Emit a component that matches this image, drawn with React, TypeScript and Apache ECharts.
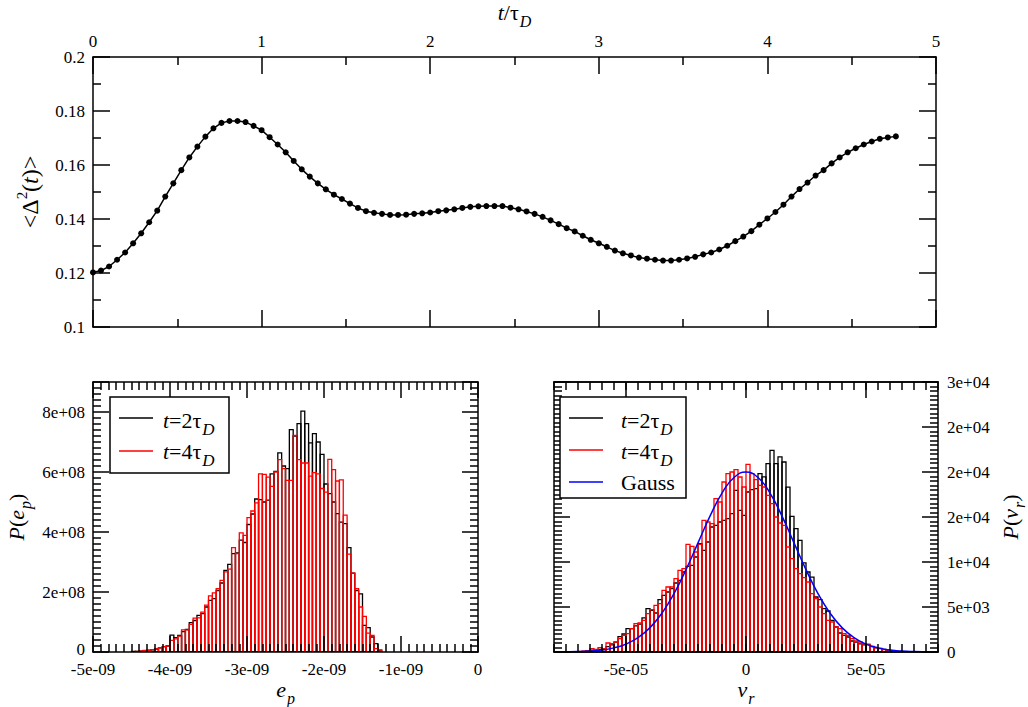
import React, { useEffect, useRef } from "react";
import * as echarts from "echarts";

const SERIF = "Liberation Serif";

// ---------- top panel: <Δ²(t)> versus t/τD ----------
const timeStep = 1 / 21; // spacing of samples in t/τD
const meanSquareDisp = [
  0.1202, 0.1209, 0.1224, 0.1249, 0.1276, 0.131, 0.1347, 0.1388, 0.1431, 0.1483,
  0.1532, 0.1581, 0.1628, 0.1668, 0.1705, 0.1736, 0.1756, 0.1763, 0.1763, 0.1759,
  0.1745, 0.1729, 0.1703, 0.1676, 0.1647, 0.1615, 0.1584, 0.1557, 0.1532, 0.151,
  0.149, 0.1474, 0.1457, 0.1441, 0.1429, 0.1423, 0.1419, 0.1415, 0.1415, 0.1416,
  0.1419, 0.1421, 0.1424, 0.1429, 0.1432, 0.1436, 0.1441, 0.1445, 0.1447, 0.1448,
  0.1448, 0.1448, 0.1442, 0.1436, 0.1428, 0.1419, 0.1408, 0.1395, 0.1381, 0.1366,
  0.1354, 0.1338, 0.1323, 0.131, 0.1297, 0.1283, 0.1273, 0.1265, 0.1257, 0.1253,
  0.1249, 0.1246, 0.1246, 0.1249, 0.1254, 0.126, 0.1269, 0.1276, 0.1287, 0.1301,
  0.1318, 0.1335, 0.1355, 0.1379, 0.1402, 0.1426, 0.1453, 0.1483, 0.1511, 0.1535,
  0.1561, 0.1581, 0.1606, 0.1628, 0.1647, 0.1662, 0.1676, 0.1687, 0.1697, 0.1702,
  0.1706,
];
const topXTickLabels = ["0", "1", "2", "3", "4", "5"];
const topYTickLabels = ["0.1", "0.12", "0.14", "0.16", "0.18", "0.2"];

// ---------- bottom-left: P(e_p), e_p in units of 1e-9, P in units of 1e+08 ----------
const epBinStart = -5;
const epBinWidth = 0.05;
const epFirstBin = 10;
const epT2 = [
  0.02, 0.02, 0.03, 0.04, 0.06, 0.07, 0.1, 0.14, 0.18, 0.2,
  0.56, 0.48, 0.55, 0.68, 0.75, 0.98, 1.05, 1.22, 1.28, 1.5,
  1.72, 1.78, 2.05, 2.3, 2.72, 2.92, 3.28, 3.3, 3.73, 3.65,
  4.25, 4.6, 5.1, 5.08, 5.0, 5.06, 5.94, 6.02, 6.64, 6.2,
  6.11, 7.41, 7.2, 7.61, 8.03, 7.61, 6.97, 7.28, 7.0, 6.59,
  5.6, 5.28, 5.0, 4.61, 4.33, 4.28, 3.48, 2.63, 2.05, 1.94,
  0.89, 0.81, 0.5, 0.28, 0.06, 0,
];
const epT4 = [
  0, 0.02, 0.03, 0.05, 0.05, 0.08, 0.1, 0.14, 0.18, 0.2,
  0.39, 0.44, 0.53, 0.74, 0.74, 0.92, 1.13, 1.14, 1.33, 1.56,
  1.87, 1.97, 2.11, 2.39, 2.67, 2.76, 3.48, 3.28, 3.97, 3.89,
  4.48, 4.7, 4.97, 5.94, 5.92, 5.83, 5.52, 6.0, 6.41, 6.11,
  5.72, 5.72, 7.22, 6.41, 6.3, 6.3, 5.86, 5.98, 5.94, 5.45,
  5.33, 6.42, 6.08, 5.7, 5.74, 4.56, 3.26, 2.63, 2.11, 1.5,
  1.19, 0.63, 0.55, 0.11, 0.06, 0,
];
const epXTickLabels = ["-5e-09", "-4e-09", "-3e-09", "-2e-09", "-1e-09", "0"];
const epYTickLabels = ["0", "2e+08", "4e+08", "6e+08", "8e+08"];

// ---------- bottom-right: P(v_r), v_r in units of 1e-5 ----------
const vrBinStart = -8;
const vrBinWidth = 1 / 6;
const vrFirstBin = 5;
const vrT2 = [
  0, 0, 50, 100, 200, 250, 300, 300, 600, 800,
  1100, 1700, 2000, 2600, 2593, 2900, 3100, 3800, 4815, 4630,
  4333, 5815, 6300, 6667, 7037, 7667, 7963, 8890, 9519, 9630,
  10556, 12037, 11300, 12222, 13890, 14074, 14444, 14630, 14815, 15370,
  17960, 15740, 15185, 17780, 18040, 18150, 19815, 19450, 20930, 22400,
  20930, 21670, 21110, 18330, 15070, 13700, 12400, 9900, 8890, 8330,
  6110, 5815, 4815, 4555, 3520, 2778, 2110, 1850, 1667, 1222,
  1100, 900, 800, 850, 600, 450, 400, 300, 200, 120,
  60, 0, 0,
];
const vrT4 = [
  30, 60, 100, 150, 370, 300, 480, 370, 1000, 926,
  1111, 1481, 1852, 2037, 2593, 3148, 3222, 3519, 4259, 4704,
  5185, 5370, 6852, 7222, 7222, 8148, 9074, 9259, 11963, 11741,
  11111, 11963, 14630, 14444, 14260, 17037, 16667, 18889, 19815, 20000,
  20260, 19444, 18333, 20850, 19815, 19150, 18520, 18333, 17400, 16480,
  15000, 14333, 14074, 11667, 10370, 9260, 8704, 8260, 7780, 6480,
  5926, 5000, 4260, 3520, 3333, 2778, 2593, 2037, 1852, 1481,
  1222, 1111, 926, 852, 630, 481, 370, 259, 185, 150,
  100, 60, 30,
];
const gaussX = [
  -8, -7.5, -7, -6.5, -6, -5.5, -5, -4.5, -4, -3.5, -3, -2.5, -2, -1.5, -1, -0.5, 0,
  0.5, 1, 1.5, 2, 2.5, 3, 3.5, 4, 4.5, 5, 5.5, 6, 6.5, 7, 7.5, 8,
];
const gaussY = [
  7, 18, 44, 102, 222, 456, 879, 1591, 2707, 4326, 6493, 9156, 12131, 15096, 17650, 19385, 20000,
  19385, 17650, 15096, 12131, 9156, 6493, 4326, 2707, 1591, 879, 456, 222, 102, 44, 18, 7,
];
const vrXTickValues = [-5, 0, 5];
const vrXTickLabels = ["-5e-05", "0", "5e-05"];
const vrYTickLabels = ["0", "5e+03", "1e+04", "2e+04", "2e+04", "2e+04", "3e+04"];

// ---------- styling helpers ----------
const nameRich: any = {
  n: { fontFamily: SERIF, fontSize: 22, color: "#000" },
  i: { fontFamily: SERIF, fontSize: 22, fontStyle: "italic", color: "#000" },
  N: { fontFamily: SERIF, fontSize: 24, color: "#000" },
  I: { fontFamily: SERIF, fontSize: 24, fontStyle: "italic", color: "#000" },
  sub: { fontFamily: SERIF, fontSize: 16, fontStyle: "italic", color: "#000", padding: [18, 0, 0, 1] },
  sup: { fontFamily: SERIF, fontSize: 15, color: "#000", padding: [0, 0, 17, 0] },
};
const tickRich: any = {
  t: { fontFamily: SERIF, fontSize: 17, color: "#000", lineHeight: 16 },
  up: { fontFamily: SERIF, fontSize: 17, color: "#000", lineHeight: 16, padding: [0, 0, 5, 0] },
};
const legendRich: any = {
  n: { fontFamily: SERIF, fontSize: 22, fill: "#000" },
  i: { fontFamily: SERIF, fontSize: 22, fontStyle: "italic", fill: "#000" },
  sub: { fontFamily: SERIF, fontSize: 17, fontStyle: "italic", fill: "#000", padding: [18, 0, 0, 1] },
};

function makeAxis(o: any) {
  const ax: any = {
    type: "value",
    gridIndex: o.grid,
    position: o.position,
    min: o.min,
    max: o.max,
    interval: o.interval,
    z: 10,
    silent: true,
    axisLine: { show: true, onZero: false, lineStyle: { color: "#000", width: 1.5 } },
    axisTick: {
      show: true,
      inside: true,
      length: o.tickLen ?? 16,
      lineStyle: { color: "#000", width: 1.5 },
    },
    minorTick: {
      show: !!o.minor,
      splitNumber: o.minor || 5,
      length: 8,
      lineStyle: { color: "#000", width: 1.5 },
    },
    splitLine: { show: false },
    minorSplitLine: { show: false },
    axisLabel: { show: false },
  };
  if (o.tickValues) ax.axisTick.customValues = o.tickValues;
  if (o.labels) {
    const fmt = o.labels;
    const raise = o.raiseZero;
    ax.axisLabel = {
      show: true,
      color: "#000",
      fontFamily: SERIF,
      fontSize: 17,
      margin: o.margin ?? 8,
      formatter: (v: number) => {
        const s = fmt(v);
        if (!s) return "";
        return raise && v === 0 ? `{up|${s}}` : `{t|${s}}`;
      },
      rich: tickRich,
      showMinLabel: true,
      showMaxLabel: true,
      hideOverlap: false,
    };
    if (o.labelValues) ax.axisLabel.customValues = o.labelValues;
  }
  if (o.name) {
    ax.name = o.name;
    ax.nameLocation = "middle";
    ax.nameGap = o.nameGap;
    if (o.nameRotate != null) ax.nameRotate = o.nameRotate;
    ax.nameMoveOverlap = false;
    ax.nameTextStyle = { fontFamily: SERIF, fontSize: 22, color: "#000", rich: nameRich };
  }
  return ax;
}

function histogramSeries(
  name: string,
  xi: number,
  yi: number,
  binStart: number,
  binWidth: number,
  firstBin: number,
  counts: number[],
  color: string,
  z: number
) {
  const data = counts.map((c, i) => [
    binStart + (firstBin + i) * binWidth,
    binStart + (firstBin + i + 1) * binWidth,
    c,
  ]);
  return {
    name,
    type: "custom",
    xAxisIndex: xi,
    yAxisIndex: yi,
    z,
    silent: true,
    clip: true,
    encode: { x: [0, 1], y: 2 },
    data,
    renderItem: (_params: any, api: any) => {
      const h = api.value(2);
      if (!(h > 0)) return { type: "group", children: [] };
      const a = api.coord([api.value(0), h]);
      const b = api.coord([api.value(1), 0]);
      return {
        type: "rect",
        shape: { x: a[0], y: a[1], width: b[0] - a[0], height: b[1] - a[1] },
        style: { fill: "none", stroke: color, lineWidth: 1.3 },
      };
    },
  };
}

function legendText(x: number, y: number, text: string) {
  return {
    type: "text",
    x,
    y,
    z: 100,
    style: { text, rich: legendRich, fontFamily: SERIF, fontSize: 22, fill: "#000", verticalAlign: "middle" },
  };
}
function legendLine(x1: number, x2: number, y: number, color: string) {
  return { type: "line", z: 100, shape: { x1, y1: y, x2, y2: y }, style: { stroke: color, lineWidth: 1.5 } };
}

export default function App() {
  const ref = useRef<HTMLDivElement>(null);

  useEffect(() => {
    if (!ref.current) return;
    const chart = echarts.init(ref.current, undefined, { renderer: "svg" });

    const topX = (v: number) => topXTickLabels[Math.round(v)] ?? "";
    const topY = (v: number) => topYTickLabels[Math.round((v - 0.1) / 0.02)] ?? "";
    const epX = (v: number) => epXTickLabels[Math.round(v + 5)] ?? "";
    const epY = (v: number) => (v <= 8 ? epYTickLabels[Math.round(v / 2)] ?? "" : "");
    const vrX = (v: number) => vrXTickLabels[vrXTickValues.indexOf(Math.round(v))] ?? "";
    const vrY = (v: number) => vrYTickLabels[Math.round(v / 5000)] ?? "";

    const option: any = {
      animation: false,
      backgroundColor: "#fff",
      textStyle: { fontFamily: SERIF },
      grid: [
        { left: 93, top: 57, width: 843, height: 270, containLabel: false, outerBoundsMode: "none" },
        { left: 93, top: 382, width: 385, height: 270, containLabel: false, outerBoundsMode: "none" },
        { left: 554, top: 382, width: 384, height: 270, containLabel: false, outerBoundsMode: "none" },
      ],
      xAxis: [
        makeAxis({
          grid: 0, position: "top", min: 0, max: 5, interval: 1, minor: 2, tickLen: 17,
          labels: topX, name: "{i|t}{n|/τ}{sub|D}", nameGap: 28,
        }),
        makeAxis({ grid: 0, position: "bottom", min: 0, max: 5, interval: 1, minor: 2, tickLen: 17 }),
        makeAxis({
          grid: 1, position: "bottom", min: -5, max: 0, interval: 1, minor: 10, margin: 9,
          labels: epX, name: "{i|e}{sub|p}", nameGap: 20,
        }),
        makeAxis({ grid: 1, position: "top", min: -5, max: 0, interval: 1, minor: 10 }),
        makeAxis({
          grid: 2, position: "bottom", min: -8, max: 8, interval: 0.5, tickValues: vrXTickValues, margin: 9,
          labels: vrX, labelValues: vrXTickValues, name: "{i|v}{sub|r}", nameGap: 20,
        }),
        makeAxis({ grid: 2, position: "bottom", min: -8, max: 8, interval: 0.5, tickLen: 8 }),
        makeAxis({ grid: 2, position: "top", min: -8, max: 8, interval: 0.5, tickValues: vrXTickValues }),
        makeAxis({ grid: 2, position: "top", min: -8, max: 8, interval: 0.5, tickLen: 8 }),
      ],
      yAxis: [
        makeAxis({
          grid: 0, position: "left", min: 0.1, max: 0.2, interval: 0.02, minor: 2, tickLen: 17,
          labels: topY, name: "{N|<Δ}{sup|2}{N|(}{I|t}{N|)>}", nameGap: 47, nameRotate: 90,
        }),
        makeAxis({ grid: 0, position: "right", min: 0.1, max: 0.2, interval: 0.02, minor: 2, tickLen: 17 }),
        makeAxis({
          grid: 1, position: "left", min: 0, max: 9, interval: 2, minor: 10, raiseZero: true,
          labels: epY, name: "{i|P}{n|(}{i|e}{sub|p}{n|)}", nameGap: 60, nameRotate: 90,
        }),
        makeAxis({ grid: 1, position: "right", min: 0, max: 9, interval: 2, minor: 10 }),
        makeAxis({
          grid: 2, position: "right", min: 0, max: 30000, interval: 5000, minor: 10,
          labels: vrY, margin: 9, name: "{i|P}{n|(}{i|v}{sub|r}{n|)}", nameGap: 55, nameRotate: 90,
        }),
        makeAxis({ grid: 2, position: "left", min: 0, max: 30000, interval: 5000, minor: 10 }),
      ],
      series: [
        {
          name: "<Δ²(t)>",
          type: "line",
          xAxisIndex: 0,
          yAxisIndex: 0,
          data: meanSquareDisp.map((v, i) => [i * timeStep, v]),
          symbol: "circle",
          symbolSize: 6,
          showSymbol: true,
          lineStyle: { color: "#000", width: 1.5 },
          itemStyle: { color: "#000" },
          z: 3,
          silent: true,
        },
        histogramSeries("t=2τD", 2, 2, epBinStart, epBinWidth, epFirstBin, epT2, "#000000", 2),
        histogramSeries("t=4τD", 2, 2, epBinStart, epBinWidth, epFirstBin, epT4, "#ff0000", 3),
        histogramSeries("t=2τD", 4, 4, vrBinStart, vrBinWidth, vrFirstBin, vrT2, "#000000", 2),
        histogramSeries("t=4τD", 4, 4, vrBinStart, vrBinWidth, vrFirstBin, vrT4, "#ff0000", 3),
        {
          name: "Gauss",
          type: "line",
          xAxisIndex: 4,
          yAxisIndex: 4,
          data: gaussX.map((x, i) => [x, gaussY[i]]),
          smooth: true,
          symbol: "none",
          lineStyle: { color: "#0000ff", width: 1.5 },
          itemStyle: { color: "#0000ff" },
          z: 4,
          silent: true,
        },
      ],
      graphic: [
        { type: "rect", z: 99, shape: { x: 110, y: 397, width: 119, height: 76 }, style: { fill: "#fff", stroke: "#000", lineWidth: 1.5 } },
        legendLine(119, 153, 418, "#000"),
        legendLine(119, 153, 451, "#ff0000"),
        legendText(163, 420, "{i|t}{n|=2τ}{sub|D}"),
        legendText(163, 451, "{i|t}{n|=4τ}{sub|D}"),
        { type: "rect", z: 99, shape: { x: 560, y: 397, width: 126, height: 101 }, style: { fill: "#fff", stroke: "#000", lineWidth: 1.5 } },
        legendLine(569, 603, 418, "#000"),
        legendLine(569, 603, 450, "#ff0000"),
        legendLine(569, 603, 482, "#0000ff"),
        legendText(621, 420, "{i|t}{n|=2τ}{sub|D}"),
        legendText(621, 451, "{i|t}{n|=4τ}{sub|D}"),
        legendText(621, 482, "{n|Gauss}"),
      ],
    };

    chart.setOption(option);
    return () => chart.dispose();
  }, []);

  return (
    <div
      ref={ref}
      style={{ position: "absolute", left: 0, top: 0, width: 1028, height: 707, background: "#fff" }}
    />
  );
}
